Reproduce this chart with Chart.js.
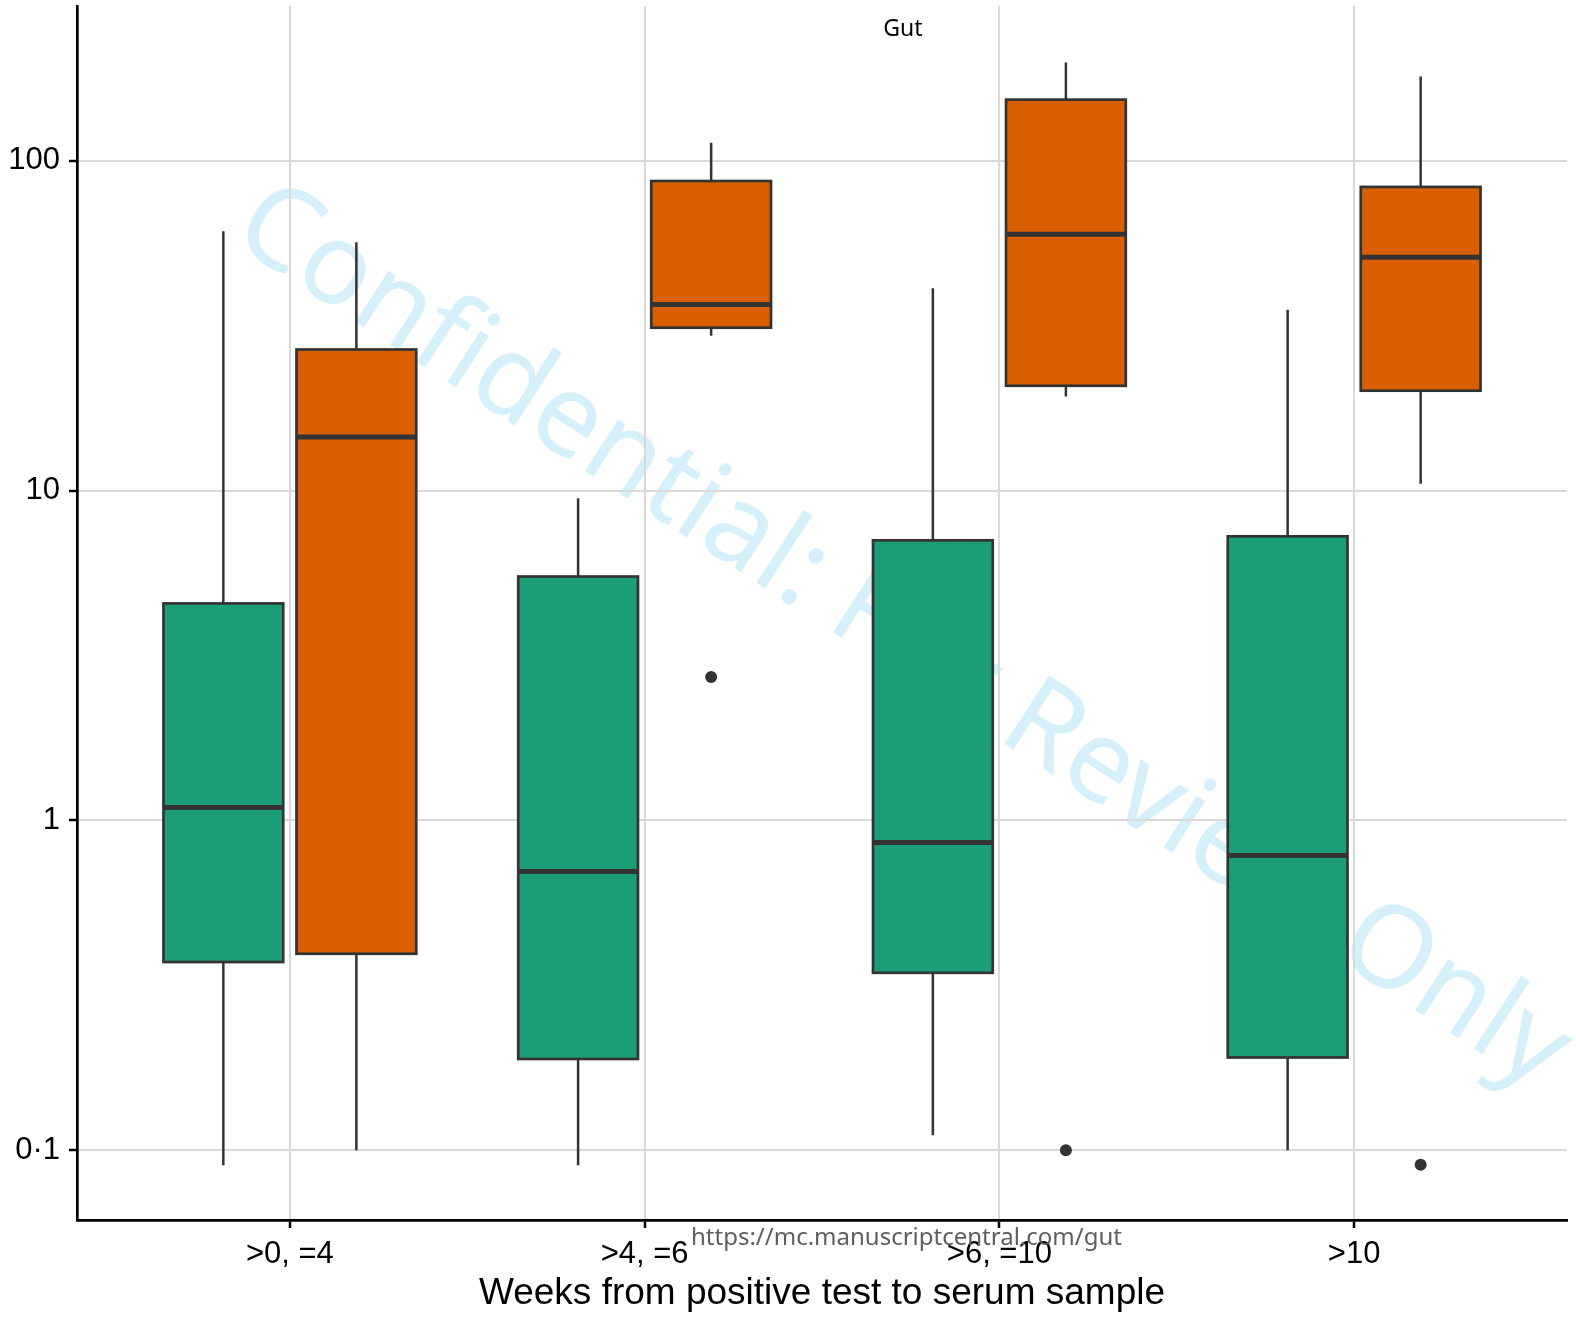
<!DOCTYPE html>
<html>
<head>
<meta charset="utf-8">
<title>Gut</title>
<script src="https://cdn.jsdelivr.net/npm/chart.js@4.4.1/dist/chart.umd.min.js"></script>
<style>
  body { margin: 0; background: #fff; }
  canvas { display: block; }
</style>
</head>
<body>
<canvas id="boxChart" width="1576" height="1317"></canvas>
<script>
'use strict';

// categories on the x axis
const categories = ['>0, =4', '>4, =6', '>6, =10', '>10'];

// y axis ticks
const yTicks = [0.1, 1, 10, 100];
const yTickLabels = ['0·1', '1', '10', '100'];

// green group: whisker ends, quartiles, median
const greenLow = [0.090, 0.090, 0.111, 0.100];
const greenQ1 = [0.372, 0.189, 0.345, 0.191];
const greenMedian = [1.095, 0.70, 0.857, 0.782];
const greenQ3 = [4.55, 5.49, 7.07, 7.27];
const greenHigh = [61.2, 9.49, 41.1, 35.4];
const greenOutliers = [[], [], [], []];

// orange group
const orangeLow = [0.100, 29.5, 19.3, 10.5];
const orangeQ1 = [0.394, 31.2, 20.8, 20.1];
const orangeMedian = [14.55, 36.7, 59.9, 51.0];
const orangeQ3 = [26.8, 86.9, 153.4, 83.4];
const orangeHigh = [56.7, 113.5, 198.7, 180.3];
const orangeOutliers = [[], [2.72], [0.1], [0.0903]];

const groups = [
  { color: '#1B9E77', offset: -0.1875, low: greenLow, q1: greenQ1, med: greenMedian, q3: greenQ3, high: greenHigh, out: greenOutliers },
  { color: '#D95F02', offset: 0.1875, low: orangeLow, q1: orangeQ1, med: orangeMedian, q3: orangeQ3, high: orangeHigh, out: orangeOutliers }
];
const boxWidth = 0.3375;

// outlier points go through a scatter dataset
const outlierPoints = [];
groups.forEach(g => {
  g.out.forEach((vals, i) => {
    vals.forEach(v => outlierPoints.push({ x: i + 1 + g.offset, y: v }));
  });
});

/**
 * background + watermark (under the grid)
 */
const watermark = {
  id: 'watermark',
  beforeDraw(chart) {
    const ctx = chart.ctx;
    ctx.save();
    ctx.fillStyle = '#fff';
    ctx.fillRect(0, 0, chart.width, chart.height);
    ctx.translate(229, 240);
    ctx.rotate(33 * Math.PI / 180);
    ctx.font = '114px "Noto Sans"';
    ctx.fillStyle = '#d5effb';
    ctx.textBaseline = 'alphabetic';
    ctx.fillText('Confidential: For Review Only', 0, 0);
    ctx.restore();
  }
};

/**
 * boxes, whiskers and medians
 */
const boxes = {
  id: 'boxes',
  beforeDatasetsDraw(chart) {
    const ctx = chart.ctx;
    const x = chart.scales.x;
    const y = chart.scales.y;
    ctx.save();
    ctx.strokeStyle = '#333333';
    groups.forEach(g => {
      for (let i = 0; i < categories.length; i++) {
        const cx = x.getPixelForValue(i + 1 + g.offset);
        const left = x.getPixelForValue(i + 1 + g.offset - boxWidth / 2);
        const right = x.getPixelForValue(i + 1 + g.offset + boxWidth / 2);
        const yLow = y.getPixelForValue(g.low[i]);
        const yQ1 = y.getPixelForValue(g.q1[i]);
        const yMed = y.getPixelForValue(g.med[i]);
        const yQ3 = y.getPixelForValue(g.q3[i]);
        const yHigh = y.getPixelForValue(g.high[i]);

        // whiskers
        ctx.lineWidth = 2.5;
        ctx.beginPath();
        ctx.moveTo(cx, yHigh);
        ctx.lineTo(cx, yQ3);
        ctx.moveTo(cx, yQ1);
        ctx.lineTo(cx, yLow);
        ctx.stroke();

        // box
        ctx.fillStyle = g.color;
        ctx.fillRect(left, yQ3, right - left, yQ1 - yQ3);
        ctx.lineWidth = 2.7;
        ctx.strokeRect(left, yQ3, right - left, yQ1 - yQ3);

        // median
        ctx.lineWidth = 5;
        ctx.beginPath();
        ctx.moveTo(left, yMed);
        ctx.lineTo(right, yMed);
        ctx.stroke();
      }
    });
    ctx.restore();
  }
};

/**
 * title and journal url
 */
const labels = {
  id: 'labels',
  afterDraw(chart) {
    const ctx = chart.ctx;
    ctx.save();
    ctx.textAlign = 'center';
    ctx.textBaseline = 'middle';
    ctx.fillStyle = '#000';
    ctx.font = '23px "Noto Sans"';
    ctx.fillText('Gut', 903, 29);
    ctx.fillStyle = '#5e5e5e';
    ctx.textAlign = 'left';
    ctx.font = '24px "Noto Sans"';
    ctx.fillText('https://mc.manuscriptcentral.com/gut', 691, 1238);
    ctx.restore();
  }
};

const ctx = document.getElementById('boxChart').getContext('2d');
const boxChart = new Chart(ctx, {
  type: 'scatter',
  data: {
    datasets: [{
      data: outlierPoints,
      backgroundColor: '#333333',
      borderWidth: 0,
      pointRadius: 6,
      pointHoverRadius: 6
    }]
  },
  plugins: [watermark, boxes, labels],
  options: {
    responsive: false,
    devicePixelRatio: 1,
    animation: false,
    layout: { padding: { top: 5, right: 9, left: 0, bottom: 0 } },
    plugins: {
      legend: { display: false },
      tooltip: { enabled: false }
    },
    scales: {
      x: {
        type: 'linear',
        min: 0.4,
        max: 4.6,
        afterBuildTicks(axis) {
          axis.ticks = categories.map((c, i) => ({ value: i + 1 }));
        },
        afterFit(axis) {
          axis.height = 97;
          axis.paddingLeft = 0;
          axis.paddingRight = 0;
        },
        ticks: {
          callback: (v) => categories[v - 1],
          color: '#000',
          font: { family: '"Liberation Sans", Arial', size: 31 },
          padding: 8,
          maxRotation: 0,
          autoSkip: false
        },
        grid: { color: '#d9d9d9', lineWidth: 2, tickColor: '#000', tickWidth: 2.5, tickLength: 8 },
        border: { color: '#000', width: 2.7 },
        title: {
          display: true,
          text: 'Weeks from positive test to serum sample',
          color: '#000',
          font: { family: '"Liberation Sans", Arial', size: 37 },
          padding: { top: 0, bottom: 1 }
        }
      },
      y: {
        type: 'logarithmic',
        min: 0.0614,
        max: 295,
        bounds: 'data',
        afterBuildTicks(axis) {
          axis.ticks = yTicks.map(v => ({ value: v }));
        },
        afterFit(axis) {
          axis.width = 77;
          axis.paddingTop = 0;
          axis.paddingBottom = 0;
        },
        ticks: {
          callback: (v) => yTickLabels[yTicks.indexOf(v)],
          color: '#000',
          font: { family: '"Liberation Sans", Arial', size: 31 },
          padding: 9,
          autoSkip: false
        },
        grid: { color: '#d9d9d9', lineWidth: 2, tickColor: '#000', tickWidth: 2.5, tickLength: 8 },
        border: { color: '#000', width: 2.7 }
      }
    }
  }
});
</script>
</body>
</html>
